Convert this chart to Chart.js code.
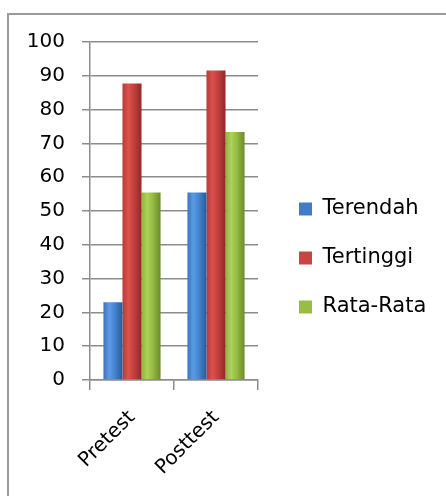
<!DOCTYPE html>
<html>
<head>
<meta charset="utf-8">
<script src="https://cdn.jsdelivr.net/npm/chart.js@4"></script>
<style>
  html, body { margin: 0; padding: 0; background: #fff; overflow: hidden; }
  #frame { position: absolute; left: 7px; top: 13px; width: 470px; height: 520px; border: 2px solid #9a9a9a; box-sizing: border-box; }
  #wrap { position: absolute; left: 0; top: 0; width: 446px; height: 496px; }
</style>
</head>
<body>
<div id="frame"></div>
<div id="wrap"><canvas id="c"></canvas></div>
<script>
const categories = ['Pretest', 'Posttest'];
const seriesNames = ['Terendah', 'Tertinggi', 'Rata-Rata'];
const terendah = [23, 55.5];
const tertinggi = [87.7, 91.6];
const rataRata = [55.5, 73.4];
const yTicks = [0, 10, 20, 30, 40, 50, 60, 70, 80, 90, 100];

const palettes = [
  { solid: '#3f7dcc', stops: ['#3a73bf', '#5c9ae2', '#4483d0', '#2a5b9a'] },
  { solid: '#c94542', stops: ['#b73a37', '#da524e', '#c4403c', '#8f2a28'] },
  { solid: '#98bd45', stops: ['#8fb33c', '#afd258', '#95ba42', '#6a8a2a'] }
];

function barFill(idx) {
  return function(ctx) {
    const p = palettes[idx];
    const el = ctx.element;
    if (!el || typeof el.x !== 'number' || !el.width) return p.solid;
    const x0 = el.x - el.width / 2, x1 = el.x + el.width / 2;
    const g = ctx.chart.ctx.createLinearGradient(x0, 0, x1, 0);
    g.addColorStop(0, p.stops[0]);
    g.addColorStop(0.3, p.stops[1]);
    g.addColorStop(0.6, p.stops[2]);
    g.addColorStop(1, p.stops[3]);
    return g;
  };
}

const FONT = { family: 'DejaVu Sans', size: 20 };
const GRID = '#8c8c8c';
const LEGEND_WIDTH = 180;
const LEGEND_SHIFT_X = 13;
const LEGEND_SHIFT_Y = -8;

const legendFix = {
  id: 'legendFix',
  afterInit(chart) {
    const lg = chart.legend;
    if (!lg) return;
    const origUpdate = lg.update.bind(lg);
    lg.update = function(maxWidth, maxHeight, margins) {
      origUpdate(400, maxHeight, margins);
      this.width = LEGEND_WIDTH;
    };
  },
  afterLayout(chart) {
    const lg = chart.legend;
    if (!lg) return;
    lg.left += LEGEND_SHIFT_X; lg.right += LEGEND_SHIFT_X;
    lg.top += LEGEND_SHIFT_Y; lg.bottom += LEGEND_SHIFT_Y;
  }
};

const chart = new Chart(document.getElementById('c'), {
  type: 'bar',
  data: {
    labels: categories,
    datasets: [
      { label: seriesNames[0], data: terendah, backgroundColor: barFill(0) },
      { label: seriesNames[1], data: tertinggi, backgroundColor: barFill(1) },
      { label: seriesNames[2], data: rataRata, backgroundColor: barFill(2) }
    ]
  },
  plugins: [legendFix],
  options: {
    responsive: true,
    maintainAspectRatio: false,
    animation: false,
    layout: { padding: { left: 10, top: 42, right: 8, bottom: 6 } },
    datasets: { bar: { categoryPercentage: 0.68, barPercentage: 1.0 } },
    plugins: {
      tooltip: { enabled: false },
      legend: {
        position: 'right',
        labels: {
          font: { family: 'DejaVu Sans', size: 21 },
          color: '#000',
          boxWidth: 13,
          boxHeight: 13,
          padding: 28,
          generateLabels: (chart) => chart.data.datasets.map((d, i) => ({
            text: d.label, fillStyle: palettes[i].solid, strokeStyle: palettes[i].solid,
            lineWidth: 0, datasetIndex: i, hidden: false
          }))
        }
      }
    },
    scales: {
      x: {
        afterFit: (s) => { s.height = 110; },
        grid: { display: true, drawOnChartArea: false, drawTicks: true, tickLength: 10, color: GRID, lineWidth: 1.5 },
        border: { color: GRID, width: 1.5 },
        ticks: { font: FONT, color: '#000', minRotation: 45, maxRotation: 45, padding: 16 }
      },
      y: {
        min: 0, max: 100,
        afterFit: (s) => { s.width = 80; },
        afterBuildTicks: (s) => { s.ticks = yTicks.map(v => ({ value: v })); },
        grid: { color: GRID, lineWidth: 1.5, drawTicks: true, tickLength: 8 },
        border: { color: GRID, width: 1.5 },
        ticks: { font: FONT, color: '#000', padding: 17 }
      }
    }
  }
});
chart.update();
</script>
</body>
</html>
